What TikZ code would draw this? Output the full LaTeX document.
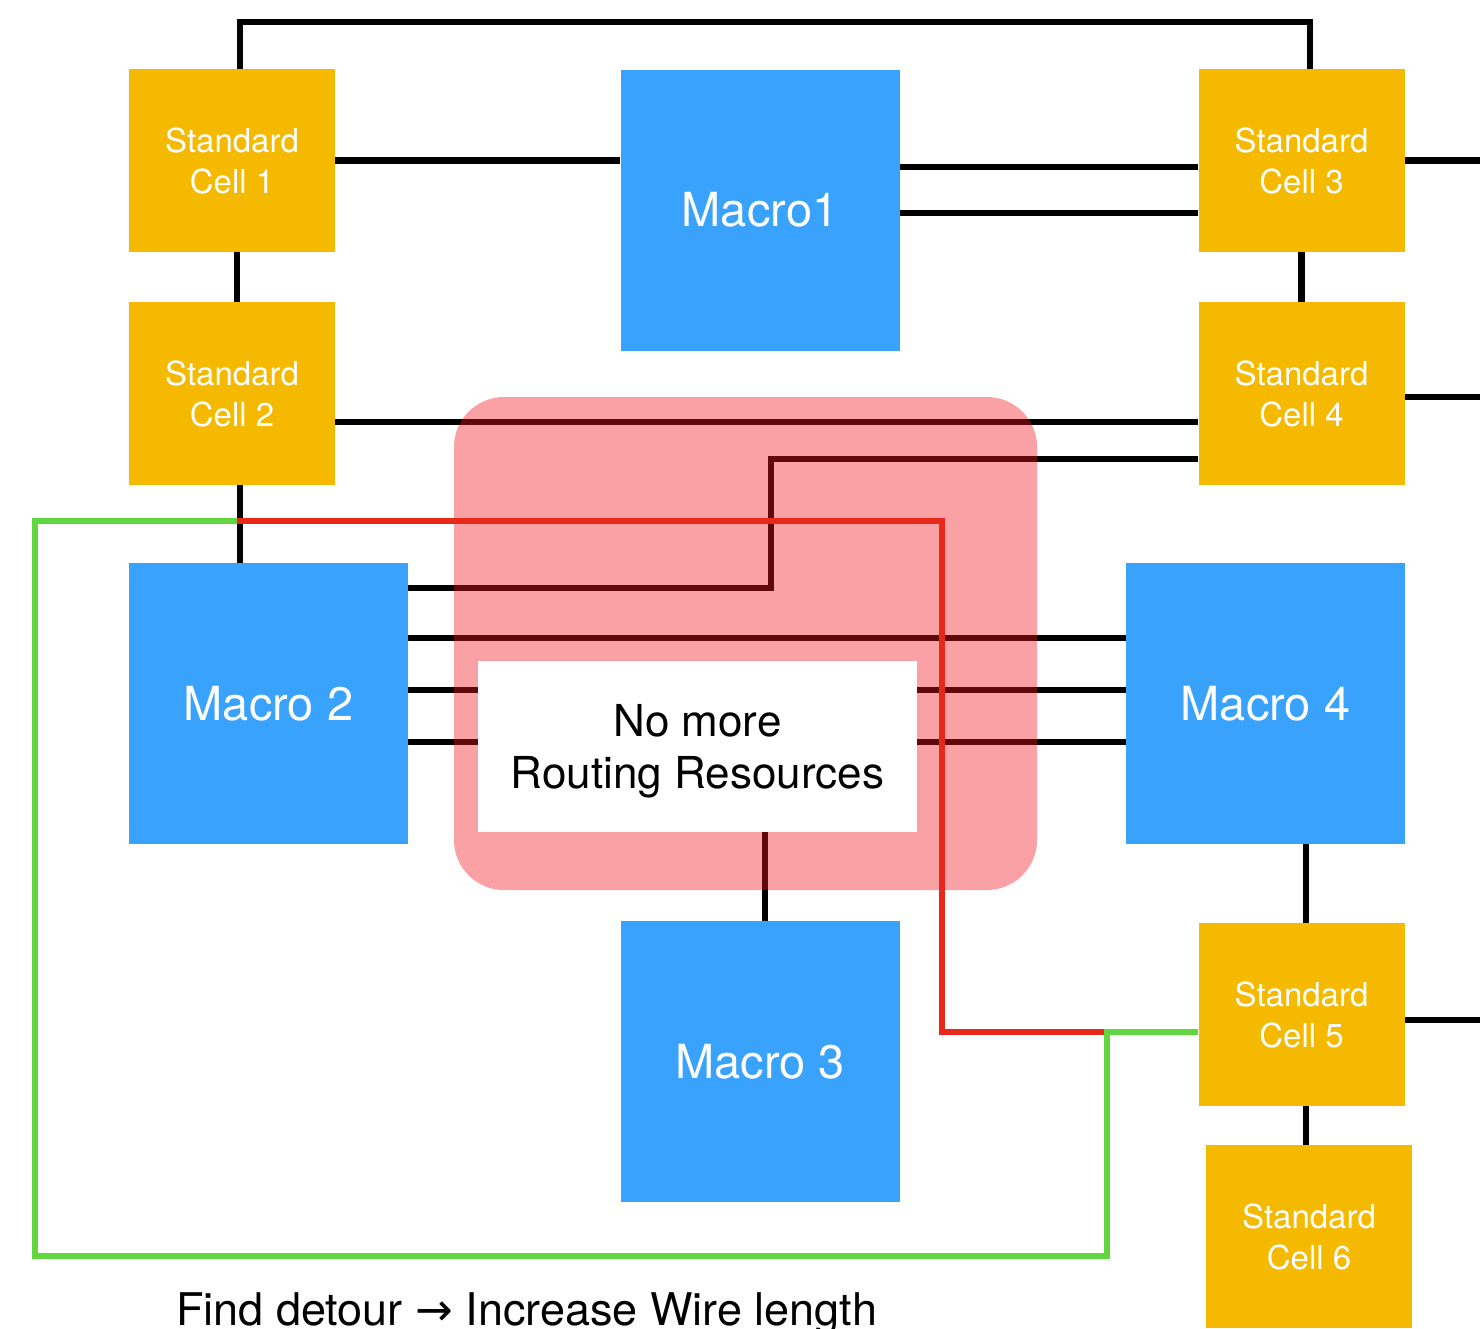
\documentclass[tikz,border=0pt]{standalone}
\usepackage{fontspec}
\setmainfont{TeX Gyre Heros}
\newfontfamily\arrowfont{DejaVu Sans}
\usetikzlibrary{backgrounds}

\definecolor{cellyellow}{RGB}{245,185,0}
\definecolor{macroblue}{RGB}{56,162,252}
\definecolor{wirered}{RGB}{232,40,26}
\definecolor{wiregreen}{RGB}{98,214,62}
\definecolor{hotred}{RGB}{240,20,30}

\tikzset{
  stdcell/.style={fill=cellyellow, text=white, inner sep=0pt, minimum width=206pt, minimum height=183pt, align=center, font=\fontsize{33}{41}\selectfont},
  macro/.style={fill=macroblue, text=white, inner sep=0pt, minimum width=279pt, minimum height=281pt, font=\fontsize{47}{56}\selectfont},
  wire/.style={line width=6.5pt},
}

\begin{document}
\begin{tikzpicture}[x=1pt, y=-1pt]
\useasboundingbox (0,0) rectangle (1480,1328);

% cells and macros
\node[stdcell] (sc1) at (232,160.5) {Standard\\Cell 1};
\node[stdcell] (sc2) at (232,393.5) {Standard\\Cell 2};
\node[stdcell] (sc3) at (1301.5,160.5) {Standard\\Cell 3};
\node[stdcell] (sc4) at (1301.5,393.5) {Standard\\Cell 4};
\node[stdcell] (sc5) at (1301.5,1014.5) {Standard\\Cell 5};
\node[stdcell] (sc6) at (1309,1236.5) {Standard\\Cell 6};
\node[macro] (m1) at (760,210) {Macro1};
\node[macro] (m2) at (268.5,703.5) {Macro 2};
\node[macro] (m3) at (760,1061.5) {Macro 3};
\node[macro] (m4) at (1265.5,703.5) {Macro 4};

% congested region
\node[fill=hotred, fill opacity=0.4, rounded corners=50pt, minimum width=583pt, minimum height=493pt] (hot) at (745.5,643.5) {};
\node[fill=white, inner sep=0pt, minimum width=439pt, minimum height=171pt, font=\fontsize{44}{52}\selectfont] (msg) at (697.5,746.5) {\raisebox{0pt}[\dimexpr\height+12pt\relax]{\begin{tabular}{@{}c@{}}No more\\Routing Resources\end{tabular}}};

% ordinary routes, under the region
\begin{scope}[on background layer]
  \coordinate (edge) at (1480,0);
  \coordinate (rail) at (760,22);
  \coordinate (jog) at (771,459);
  \draw[wire] ([xshift=8pt]sc1.north) |- (rail) -| ([xshift=8.5pt]sc3.north);
  \draw[wire] (sc1.east) -- (sc1.east -| m1.west);
  \draw[wire] ([yshift=-6.5pt]sc3.west) -- ([yshift=-6.5pt]sc3.west -| m1.east);
  \draw[wire] ([yshift=-52.5pt]sc3.west) -- ([yshift=-52.5pt]sc3.west -| m1.east);
  \draw[wire] (sc3.east) -- (sc3.east -| edge);
  \draw[wire] (sc3) -- (sc4);
  \draw[wire] ([xshift=5pt]sc1.south) -- ([xshift=5pt]sc2.north);
  \draw[wire] ([yshift=-3.5pt]sc4.east) -- ([yshift=-3.5pt]sc4.east -| edge);
  \draw[wire] ([yshift=-28.5pt]sc2.east) -- ([yshift=-28.5pt]sc2.east -| sc4.west);
  \draw[wire] ([yshift=115.5pt]m2.east) -| (jog) -- (jog -| sc4.west);
  \foreach \dy in {65.5,13.5,-38.5}
    \draw[wire] ([yshift=\dy pt]m2.east) -- ([yshift=\dy pt]m4.west);
  \draw[wire] ([xshift=5pt]m3.north) -- ([xshift=5pt]m3.north |- msg.south);
  \draw[wire] ([xshift=8pt]sc2.south) -- ([xshift=8pt]sc2.south |- m2.north);
  \draw[wire] ([xshift=4.5pt]sc5.north) -- ([xshift=4.5pt]sc5.north |- m4.south);
  \draw[wire] ([yshift=-5.5pt]sc5.east) -- ([yshift=-5.5pt]sc5.east -| edge);
  \draw[wire] ([xshift=4.5pt]sc5.south) -- ([xshift=4.5pt]sc5.south |- sc6.north);
\end{scope}

% blocked route and detour
\coordinate (tap) at (237,521);
\coordinate (rdrop) at (942,1032);
\coordinate (split) at (1107,1032);
\coordinate (gcorner) at (35,1256);
\draw[wire, wirered] (tap) -| (rdrop) -- (split);
\draw[wire, wiregreen] (tap) -| (gcorner) -| (split) -- (split -| sc5.west);

\node[anchor=base west, inner sep=0pt, font=\fontsize{45}{52}\selectfont] (note) at (176,1325) {Find detour {\arrowfont →} Increase Wire length};
\end{tikzpicture}
\end{document}
